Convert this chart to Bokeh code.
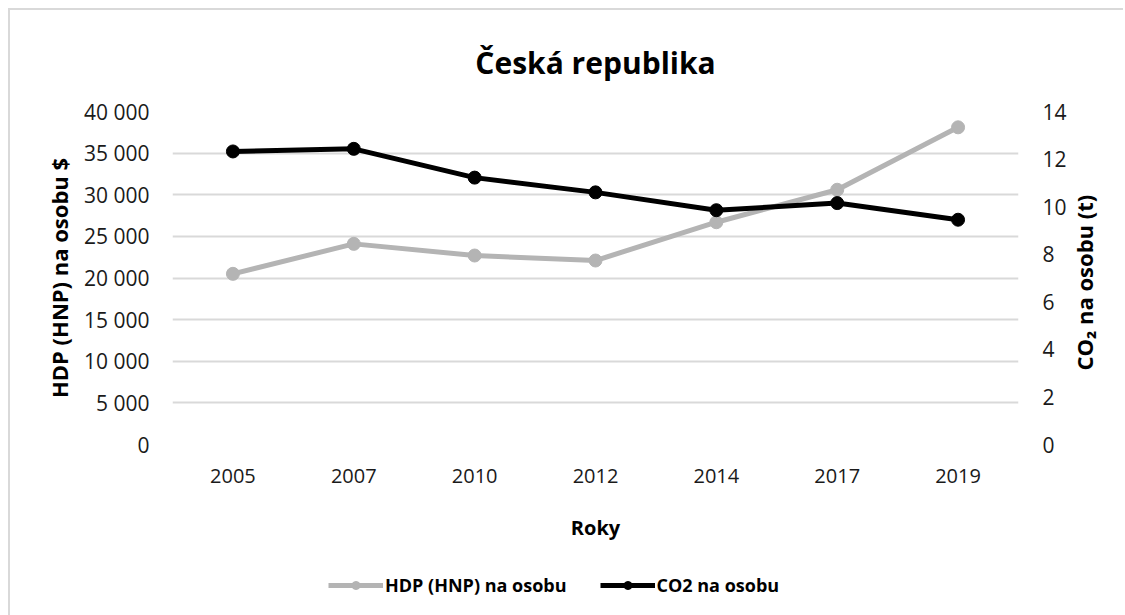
import math
from bokeh.plotting import figure
from bokeh.layouts import column, row
from bokeh.models import (Range1d, LinearAxis, FixedTicker, CustomJSTickFormatter,
                          Legend, LegendItem, FactorRange, Label)
from bokeh.embed import file_html
from bokeh.resources import INLINE

years = ["2005", "2007", "2010", "2012", "2014", "2017", "2019"]
hdp = [20500, 24100, 22700, 22100, 26700, 30600, 38100]
co2 = [12.32, 12.43, 11.22, 10.6, 9.85, 10.15, 9.45]
left_ticks = [0, 5000, 10000, 15000, 20000, 25000, 30000, 35000, 40000]
right_ticks = [0, 2, 4, 6, 8, 10, 12, 14]
series_names = ["HDP (HNP) na osobu", "CO2 na osobu"]
right_title = "CO₂ na osobu (t)"

FONT = "Open Sans"
GRAY = "#b4b4b4"
BLACK = "#000000"

p = figure(frame_width=846, frame_height=333, x_range=FactorRange(*years),
           y_range=Range1d(0, 40000), output_backend="svg", toolbar_location=None,
           min_border_left=162, min_border_right=52, min_border_top=99,
           min_border_bottom=103)
p.outline_line_color = None
p.background_fill_color = "white"
p.border_fill_color = "white"

p.title.text = "Česká republika"
p.title.text_font = FONT
p.title.text_font_size = "30px"
p.title.text_font_style = "bold"
p.title.text_color = "#000000"
p.title.align = "center"
p.title.offset = 0
p.title.standoff = 58

p.extra_y_ranges = {"co2": Range1d(0, 14)}

p.xgrid.grid_line_color = None
p.ygrid.grid_line_color = "#d9d9d9"
p.ygrid.grid_line_width = 2

p.line(years, hdp, line_color=GRAY, line_width=5)
p.scatter(years, hdp, size=13, fill_color=GRAY, line_color=GRAY)
p.line(years, co2, line_color=BLACK, line_width=5, y_range_name="co2")
p.scatter(years, co2, size=13, fill_color=BLACK, line_color=BLACK, y_range_name="co2")

def style_axis(ax, tick_size="20px", label_size="22px"):
    ax.axis_line_color = None
    ax.major_tick_line_color = None
    ax.minor_tick_line_color = None
    ax.major_label_text_font = FONT
    ax.major_label_text_font_size = tick_size
    ax.major_label_text_color = "#1a1a1a"
    ax.axis_label_text_font = FONT
    ax.axis_label_text_font_size = label_size
    ax.axis_label_text_font_style = "bold"
    ax.axis_label_text_color = "#000000"

yl = p.yaxis[0]
style_axis(yl, "21px")
yl.ticker = FixedTicker(ticks=left_ticks)
yl.formatter = CustomJSTickFormatter(code="""
    return tick.toFixed(0).replace(/\\B(?=(\\d{3})+(?!\\d))/g, " ");
""")
yl.axis_label = "HDP (HNP) na osobu $"
yl.major_label_standoff = 17
yl.axis_label_standoff = 7

yr = LinearAxis(y_range_name="co2", ticker=FixedTicker(ticks=right_ticks))
style_axis(yr, "21px")
yr.major_label_standoff = 18
p.add_layout(yr, "right")

xa = p.xaxis[0]
style_axis(xa, "20px", "20px")
xa.axis_label = "Roky"
xa.major_label_standoff = 18
xa.axis_label_standoff = 28

# right-hand axis title strip (reads bottom-to-top)
rf = figure(frame_width=53, frame_height=535, x_range=Range1d(0, 1), y_range=Range1d(0, 1),
            output_backend="svg", toolbar_location=None, x_axis_type=None, y_axis_type=None,
            min_border_left=0, min_border_right=0, min_border_top=0, min_border_bottom=0)
rf.outline_line_color = None
rf.xgrid.grid_line_color = None
rf.ygrid.grid_line_color = None
rf.background_fill_color = "white"
rf.border_fill_color = "white"
rf.add_layout(Label(x=0.25, y=0.68, text=right_title, angle=math.pi / 2,
                    text_align="center", text_baseline="middle", text_font=FONT,
                    text_font_size="22px", text_font_style="bold", text_color="#000000"))

# legend strip below the chart
lf = figure(frame_width=1113, frame_height=70, x_range=Range1d(0, 1), y_range=Range1d(0, 1),
            output_backend="svg", toolbar_location=None, x_axis_type=None, y_axis_type=None,
            min_border_left=0, min_border_right=0, min_border_top=0, min_border_bottom=0)
lf.outline_line_color = None
lf.xgrid.grid_line_color = None
lf.ygrid.grid_line_color = None
lf.background_fill_color = "white"
lf.border_fill_color = "white"
# series data lies outside this strip's ranges, so only the legend swatches show
g1 = lf.line(hdp, hdp, line_color=GRAY, line_width=5)
g2 = lf.scatter(hdp, hdp, size=13, fill_color=GRAY, line_color=GRAY)
b1 = lf.line(co2, co2, line_color=BLACK, line_width=5)
b2 = lf.scatter(co2, co2, size=13, fill_color=BLACK, line_color=BLACK)

legend = Legend(items=[LegendItem(label=series_names[0], renderers=[g1, g2]),
                       LegendItem(label=series_names[1], renderers=[b1, b2])],
                orientation="horizontal", location=(318, 20))
legend.border_line_color = None
legend.background_fill_alpha = 0
legend.label_text_font = FONT
legend.label_text_font_size = "18px"
legend.label_text_font_style = "bold"
legend.label_text_color = "#000000"
legend.glyph_width = 55
legend.glyph_height = 20
legend.label_standoff = 2
legend.spacing = 33
legend.padding = 0
legend.margin = 0
lf.add_layout(legend, "center")

layout = column(row(p, rf, spacing=0), lf, spacing=0)
layout.styles = {"border-top": "2px solid #d9d9d9", "border-left": "2px solid #d9d9d9",
                 "margin-left": "8px", "margin-top": "8px"}

open("out.html", "w").write(file_html(layout, INLINE))
